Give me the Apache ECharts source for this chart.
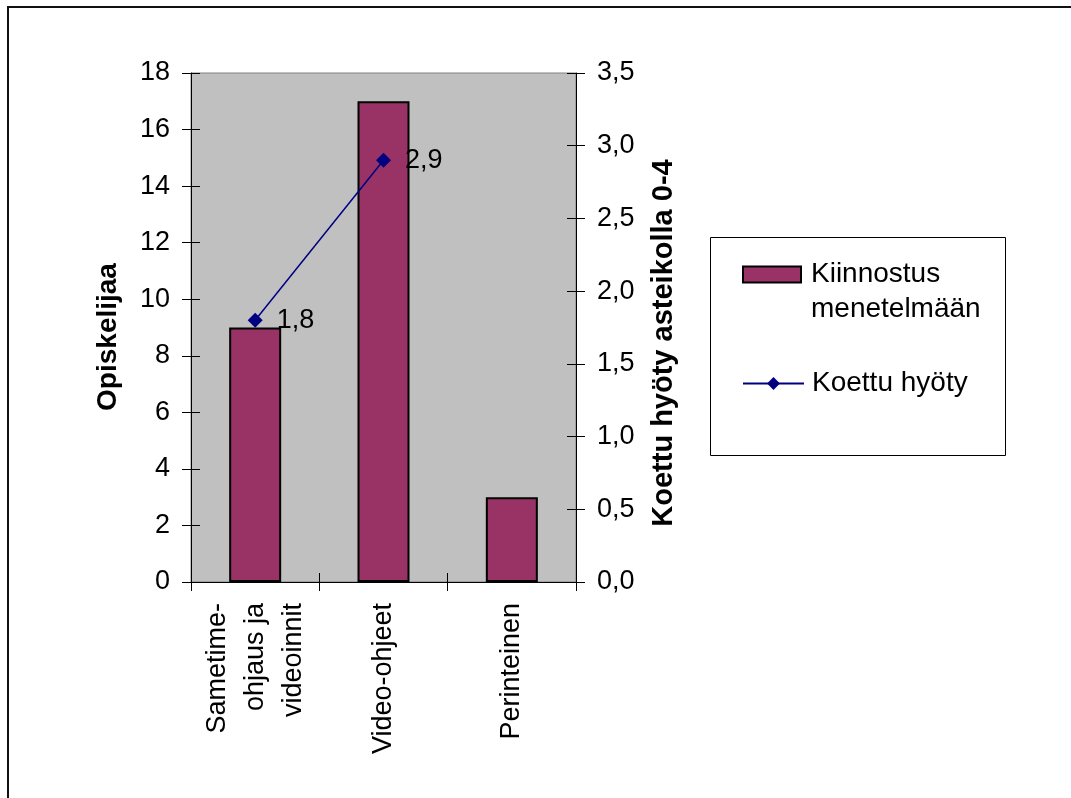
<!DOCTYPE html>
<html>
<head>
<meta charset="utf-8">
<script src="https://cdn.jsdelivr.net/npm/echarts@6/dist/echarts.min.js"></script>
<style>
  html, body { margin: 0; padding: 0; background: #fff; }
  #chart { width: 1071px; height: 798px; }
</style>
</head>
<body>
<div id="chart"></div>
<script>
// Menetelmät ja niiden kiinnostus / koettu hyöty
const categories = ['Sametime-\nohjaus ja\nvideoinnit', 'Video-ohjeet', 'Perinteinen'];
const interestCounts = [9, 17, 3];          // Opiskelijaa
const perceivedBenefit = [1.8, 2.9, null];  // Koettu hyöty asteikolla 0-4
const rightTickLabels = ['0,0', '0,5', '1,0', '1,5', '2,0', '2,5', '3,0', '3,5'];
const barName = 'Kiinnostus menetelmään';
const lineName = 'Koettu hyöty';
const leftTitle = 'Opiskelijaa';
const rightTitle = 'Koettu hyöty asteikolla 0-4';

const FONT = "'Liberation Sans', Arial, sans-serif";
const chart = echarts.init(document.getElementById('chart'), null, { renderer: 'canvas' });

const grid = { left: 191, right: 495, top: 73, bottom: 216,
  show: true, backgroundColor: '#c0c0c0', borderColor: '#808080', borderWidth: 1, containLabel: false };

const leftAxisBase = { type: 'value', min: 0, max: 18, interval: 2, position: 'left' };
const rightAxisBase = { type: 'value', min: 0, max: 3.5, interval: 0.5, position: 'right' };
const labelStyle = { color: '#000', fontFamily: FONT, fontSize: 27 };

chart.setOption({
  animation: false,
  backgroundColor: '#fff',
  grid: grid,
  graphic: [
    { type: 'rect', z: -10, shape: { x: 8, y: 7, width: 1200, height: 1000 },
      style: { fill: '#fff', stroke: '#111', lineWidth: 2 } },
    { type: 'rect', z: 5, shape: { x: 710.5, y: 237.5, width: 295, height: 218 },
      style: { fill: '#fff', stroke: '#000', lineWidth: 1 } },
    { type: 'text', z: 10, x: 108, y: 337, rotation: Math.PI / 2,
      style: { text: leftTitle, font: 'bold 28px ' + FONT, fill: '#000',
        textAlign: 'center', textVerticalAlign: 'middle' } },
    { type: 'text', z: 10, x: 664, y: 343, rotation: Math.PI / 2,
      style: { text: rightTitle, font: 'bold 29px ' + FONT, fill: '#000',
        textAlign: 'center', textVerticalAlign: 'middle' } }
  ],
  legend: [
    // the leading blank line keeps the first text line level with the swatch
    { data: [barName], orient: 'vertical', left: 742, top: 222, padding: 0, z: 20,
      icon: 'rect', itemWidth: 58, itemHeight: 16,
      itemStyle: { borderColor: '#000', borderWidth: 2 },
      formatter: n => '\n' + n.replace(' ', '\n'),
      textStyle: { color: '#000', fontFamily: FONT, fontSize: 28, lineHeight: 35, padding: [0, 0, 0, 5] } },
    { data: [lineName], orient: 'vertical', left: 742, top: 366, padding: 0, z: 20,
      itemWidth: 61, itemHeight: 16,
      textStyle: { color: '#000', fontFamily: FONT, fontSize: 28, lineHeight: 35, padding: [0, 0, 0, 3] } }
  ],
  xAxis: [
    { type: 'category', data: categories, position: 'bottom',
      axisLine: { show: true, lineStyle: { color: '#000', width: 1 } },
      axisTick: { show: true, length: 9, inside: false, lineStyle: { color: '#000' } },
      axisLabel: Object.assign({ interval: 0, rotate: 90, margin: 21, lineHeight: 38 }, labelStyle),
      splitLine: { show: false } },
    { type: 'category', data: categories, position: 'bottom',
      axisLine: { show: false },
      axisTick: { show: true, length: 9, inside: true, lineStyle: { color: '#000' } },
      axisLabel: { show: false }, splitLine: { show: false } }
  ],
  yAxis: [
    Object.assign({}, leftAxisBase, {
      axisLine: { show: true, lineStyle: { color: '#000' } },
      axisTick: { show: true, length: 9, inside: false, lineStyle: { color: '#000' } },
      axisLabel: Object.assign({ margin: 21 }, labelStyle),
      splitLine: { show: false } }),
    Object.assign({}, rightAxisBase, {
      axisLine: { show: true, lineStyle: { color: '#000' } },
      axisTick: { show: true, length: 9, inside: false, lineStyle: { color: '#000' } },
      axisLabel: Object.assign({ margin: 21,
        formatter: v => rightTickLabels[Math.round(v / 0.5)] }, labelStyle),
      splitLine: { show: false } }),
    Object.assign({}, leftAxisBase, {
      axisLine: { show: false },
      axisTick: { show: true, length: 9, inside: true, lineStyle: { color: '#000' } },
      axisLabel: { show: false }, splitLine: { show: false } }),
    Object.assign({}, rightAxisBase, {
      axisLine: { show: false },
      axisTick: { show: true, length: 9, inside: true, lineStyle: { color: '#000' } },
      axisLabel: { show: false }, splitLine: { show: false } })
  ],
  series: [
    { name: barName, type: 'bar', xAxisIndex: 0, yAxisIndex: 0, data: interestCounts,
      barWidth: 52,
      itemStyle: { color: '#993366', borderColor: '#000', borderWidth: 2 } },
    { name: lineName, type: 'line', xAxisIndex: 0, yAxisIndex: 1, data: perceivedBenefit,
      z: 5, symbol: 'diamond', symbolSize: 15, connectNulls: false,
      lineStyle: { color: '#000080', width: 1.5 },
      itemStyle: { color: '#000080' },
      label: { show: true, position: 'right', distance: 14, color: '#000',
        fontFamily: FONT, fontSize: 27,
        formatter: p => String(p.value).replace('.', ',') } }
  ]
});
</script>
</body>
</html>
